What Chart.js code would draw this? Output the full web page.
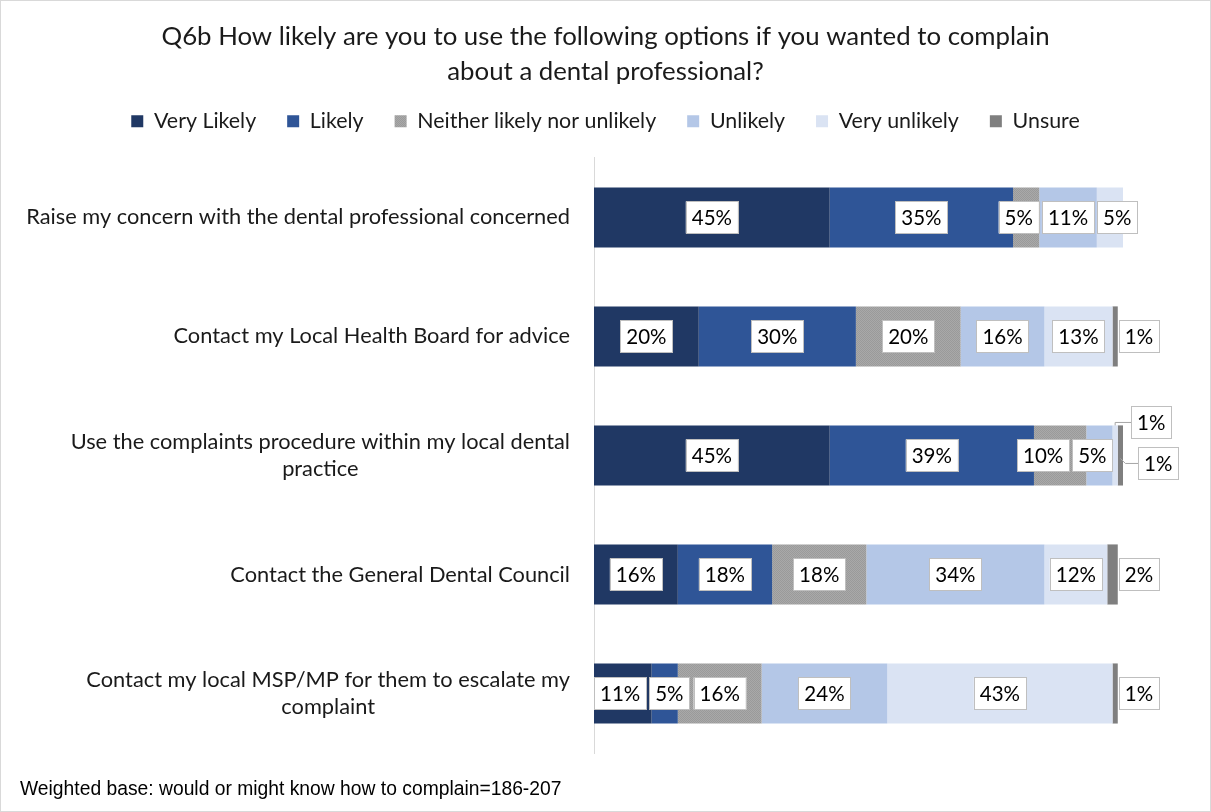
<!DOCTYPE html>
<html>
<head>
<meta charset="utf-8">
<script src="https://cdn.jsdelivr.net/npm/chart.js@4"></script>
<style>
  body { margin: 0; background: #fff; }
  canvas { display: block; }
</style>
</head>
<body>
<canvas id="q6b" width="1211" height="812"></canvas>
<script>
const categories = [
    'Raise my concern with the dental professional concerned',
    'Contact my Local Health Board for advice',
    ['Use the complaints procedure within my local dental', 'practice'],
    'Contact the General Dental Council',
    ['Contact my local MSP/MP for them to escalate my', 'complaint']
];
const seriesNames = ['Very Likely', 'Likely', 'Neither likely nor unlikely', 'Unlikely', 'Very unlikely', 'Unsure'];
const veryLikely   = [45, 20, 45, 16, 11];
const likely       = [35, 30, 39, 18, 5];
const neither      = [5, 20, 10, 18, 16];
const unlikely     = [11, 16, 5, 34, 24];
const veryUnlikely = [5, 13, 1, 12, 43];
const unsure       = [0, 1, 1, 2, 1];
const footnote = 'Weighted base: would or might know how to complain=186-207';

const FONT = 'Lato, "Noto Sans", sans-serif';

// fine grey stipple for the "neither" series
function stipple() {
    const c = document.createElement('canvas');
    c.width = 2; c.height = 2;
    const g = c.getContext('2d');
    g.fillStyle = '#a9a9a9';
    g.fillRect(0, 0, 2, 2);
    g.fillStyle = '#9a9a9a';
    g.fillRect(0, 0, 1, 1);
    g.fillRect(1, 1, 1, 1);
    return g.createPattern(c, 'repeat');
}

const colors = ['#203864', '#2f5597', stipple(), '#b4c7e7', '#dae3f3', '#7f7f7f'];
const values = [veryLikely, likely, neither, unlikely, veryUnlikely, unsure];

// white page + thin frame
const framePlugin = {
    id: 'frame',
    beforeDraw(chart) {
        const ctx = chart.ctx;
        ctx.save();
        ctx.fillStyle = '#fff';
        ctx.fillRect(0, 0, chart.width, chart.height);
        ctx.strokeStyle = '#d9d9d9';
        ctx.lineWidth = 1;
        ctx.strokeRect(0.5, 0.5, chart.width - 1, chart.height - 1);
        ctx.restore();
    }
};

// category labels: right aligned, wrapped lines centred on each other
const categoryLabels = {
    id: 'categoryLabels',
    afterDraw(chart) {
        const ctx = chart.ctx;
        const y = chart.scales.y;
        const right = chart.chartArea.left - 24;
        ctx.save();
        ctx.font = '21.8px ' + FONT;
        ctx.fillStyle = '#1a1a1a';
        ctx.textBaseline = 'middle';
        ctx.textAlign = 'center';
        categories.forEach((c, i) => {
            const lines = Array.isArray(c) ? c : [c];
            const w = Math.max(...lines.map(l => ctx.measureText(l).width));
            const cx = right - w / 2;
            const cy = y.getPixelForValue(i);
            lines.forEach((l, k) => {
                ctx.fillText(l, cx, cy + (k - (lines.length - 1) / 2) * 27);
            });
        });
        ctx.font = '19.3px "Liberation Sans", Arial, sans-serif';
        ctx.textAlign = 'left';
        ctx.fillStyle = '#000';
        ctx.fillText(footnote, 20, 790);
        ctx.restore();
    }
};

// boxed percentage labels, nudged apart when they collide
const valueBoxes = {
    id: 'valueBoxes',
    afterDatasetsDraw(chart) {
        const ctx = chart.ctx;
        const pad = 6, h = 32, gap = 3;
        ctx.save();
        ctx.font = '20.5px ' + FONT;
        ctx.textAlign = 'center';
        ctx.textBaseline = 'middle';

        const drawBox = (b) => {
            ctx.fillStyle = '#fff';
            ctx.fillRect(b.x, b.y - h / 2, b.w, h);
            ctx.strokeStyle = '#bfbfbf';
            ctx.lineWidth = 1;
            ctx.strokeRect(Math.round(b.x) + 0.5, Math.round(b.y - h / 2) + 0.5, Math.round(b.w), h);
            ctx.fillStyle = '#000';
            ctx.fillText(b.text, b.x + b.w / 2, b.y + 1);
        };

        categories.forEach((_, i) => {
            const inside = [], outside = [];
            let barEnd = 0, barY = 0, barH = 0;
            chart.data.datasets.forEach((ds, d) => {
                const v = ds.data[i];
                const bar = chart.getDatasetMeta(d).data[i];
                barEnd = Math.max(barEnd, bar.x);
                barY = bar.y; barH = bar.height;
                if (!v) return;
                const text = v + '%';
                const w = ctx.measureText(text).width + pad * 2;
                const box = { text, w, seg: (bar.x + bar.base) / 2, end: bar.x, y: bar.y };
                box.x = box.seg - w / 2;
                (v <= 2 ? outside : inside).push(box);
            });

            const last = inside[inside.length - 1];
            for (let it = 0; it < 30; it++) {
                for (let k = 1; k < inside.length; k++) {
                    const a = inside[k - 1], b = inside[k];
                    const o = a.x + a.w + gap - b.x;
                    if (o > 0) { a.x -= o / 2; b.x += o / 2; }
                }
                if (inside[0].x < chart.chartArea.left) inside[0].x = chart.chartArea.left;
                // leave room for leader lines when two labels sit outside
                if (outside.length > 1 && last.x + last.w > last.end) last.x = last.end - last.w;
            }
            inside.forEach(drawBox);

            if (outside.length === 1) {
                outside[0].x = barEnd + 1;
                drawBox(outside[0]);
            } else {
                const shifts = [[8, -33], [15, 8]];
                outside.forEach((b, k) => {
                    b.x = barEnd + shifts[k][0];
                    b.y = barY + shifts[k][1];
                    ctx.strokeStyle = '#a6a6a6';
                    ctx.lineWidth = 1;
                    ctx.beginPath();
                    if (b.y < barY - barH / 2) {
                        ctx.moveTo(b.seg, barY - barH / 2);
                        ctx.lineTo(b.seg, b.y);
                    } else {
                        ctx.moveTo(b.seg, b.y - 5);
                        ctx.lineTo(b.seg + 5, b.y);
                    }
                    ctx.lineTo(b.x, b.y);
                    ctx.stroke();
                    drawBox(b);
                });
            }
        });
        ctx.restore();
    }
};

new Chart(document.getElementById('q6b'), {
    type: 'bar',
    data: {
        labels: categories,
        datasets: seriesNames.map((name, k) => ({
            label: name,
            data: values[k],
            backgroundColor: colors[k],
            borderWidth: 0,
            barPercentage: 0.505,
            categoryPercentage: 1
        }))
    },
    options: {
        indexAxis: 'y',
        responsive: false,
        animation: false,
        devicePixelRatio: 1,
        layout: { padding: { top: 19.5, left: 88, right: 88, bottom: 59 } },
        scales: {
            x: {
                stacked: true, min: 0, max: 101, position: 'top',
                ticks: { display: false },
                grid: { display: false, drawTicks: false },
                border: { display: false },
                afterFit(scale) { scale.height = 16; }
            },
            y: {
                stacked: true,
                grid: { display: false, drawTicks: false },
                border: { display: true, color: '#d9d9d9', width: 1 },
                ticks: { display: false },
                afterFit(scale) { scale.width = 506; }
            }
        },
        plugins: {
            tooltip: { enabled: false },
            title: {
                display: true,
                text: ['Q6b How likely are you to use the following options if you wanted to complain', 'about a dental professional?'],
                color: '#1a1a1a',
                font: { family: FONT, size: 25.8, weight: 'normal', lineHeight: 1.357 },
                padding: { top: 0, bottom: -10 }
            },
            legend: {
                display: true,
                labels: {
                    color: '#1a1a1a',
                    font: { family: FONT, size: 21.4 },
                    boxWidth: 12,
                    boxHeight: 12,
                    padding: 31
                }
            }
        }
    },
    plugins: [framePlugin, categoryLabels, valueBoxes]
});
</script>
</body>
</html>
